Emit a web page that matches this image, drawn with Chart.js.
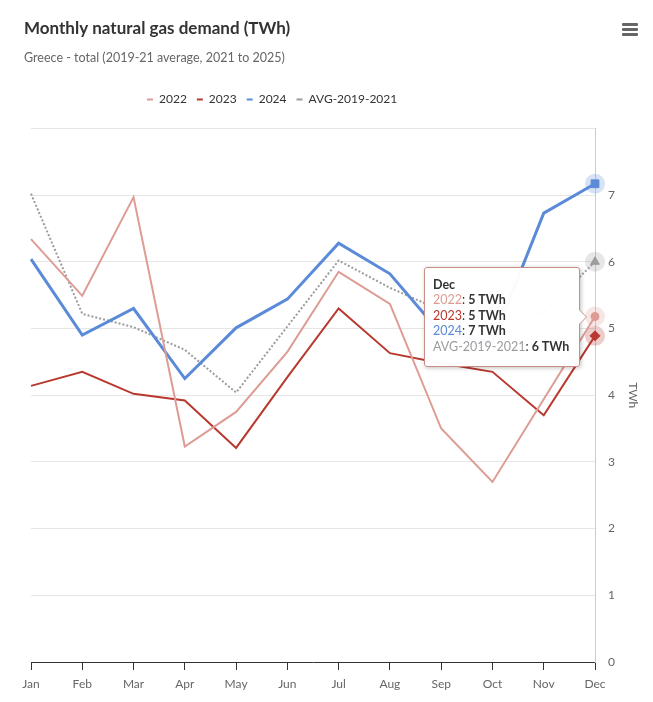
<!DOCTYPE html>
<html>
<head>
<meta charset="utf-8">
<script src="https://cdn.jsdelivr.net/npm/chart.js@4.4.1/dist/chart.umd.min.js"></script>
<style>
  html, body { margin: 0; padding: 0; background: #fff; }
  #wrap { position: relative; width: 653px; height: 702px; }
  #menu { position: absolute; left: 622px; top: 23px; width: 16px; }
  #menu span { display: block; height: 3px; background: #666; margin-bottom: 2px; border-radius: 1px; }
  #tip {
    position: absolute; opacity: 0; pointer-events: none; white-space: nowrap;
    background: rgba(255,255,255,0.97); border: 1px solid #c98d85; border-radius: 3px;
    box-shadow: 1px 1px 4px rgba(0,0,0,0.25);
    padding: 9px 10px 12px 8px; font: 12.5px 'Lato', sans-serif; line-height: 15.5px; color: #333;
  }
  #tip .t { font-weight: bold; }
  #tip:before, #tip:after {
    content: ''; position: absolute; top: 50%; width: 0; height: 0;
    border-top: 8px solid transparent; border-bottom: 8px solid transparent;
  }
  #tip:before { right: -8px; margin-top: -8px; border-left: 8px solid #c98d85; }
  #tip:after { right: -7px; margin-top: -8px; border-left: 8px solid #fff; }
</style>
</head>
<body>
<div id="wrap">
  <canvas id="chart" width="653" height="702"></canvas>
  <div id="menu"><span></span><span></span><span></span></div>
  <div id="tip"></div>
</div>
<script>
    // Data
    const months = ['Jan', 'Feb', 'Mar', 'Apr', 'May', 'Jun', 'Jul', 'Aug', 'Sep', 'Oct', 'Nov', 'Dec'];
    const seriesNames = ['2022', '2023', '2024', 'AVG-2019-2021'];
    const values2022 = [6.34, 5.49, 6.97, 3.23, 3.75, 4.65, 5.85, 5.37, 3.50, 2.70, 3.94, 5.18];
    const values2023 = [4.14, 4.35, 4.02, 3.92, 3.21, 4.27, 5.30, 4.63, 4.48, 4.35, 3.70, 4.89];
    const values2024 = [6.04, 4.90, 5.30, 4.25, 5.01, 5.44, 6.28, 5.82, 4.92, 4.80, 6.73, 7.17];
    const valuesAvg = [7.02, 5.22, 5.02, 4.68, 4.04, 5.03, 6.02, 5.61, 5.27, 5.05, 5.24, 6.00];
    const yTickLabels = ['0', '1', '2', '3', '4', '5', '6', '7', ''];
    const unit = 'TWh';

    // Styles
    const FONT = 'Lato';
    const colors = ['#dd9c94', '#b8392f', '#5b8bd8', '#9c9c9c'];
    const widths = [2, 2, 3, 2];
    const markers = ['circle', 'rectRot', 'rect', 'triangle'];
    const markerSizes = [4, 5, 5.5, 5];
    const LEGEND_X = 147;

    const allValues = [values2022, values2023, values2024, valuesAvg];

    // Halo behind hovered points
    const haloPlugin = {
        id: 'halo',
        beforeDatasetsDraw(chart) {
            const ctx = chart.ctx;
            chart.getActiveElements().forEach(a => {
                ctx.save();
                ctx.globalAlpha = 0.25;
                ctx.fillStyle = colors[a.datasetIndex];
                ctx.beginPath();
                ctx.arc(a.element.x, a.element.y, 10, 0, Math.PI * 2);
                ctx.fill();
                ctx.restore();
            });
        }
    };

    // Legend: extra room below it, and shifted to where the original sits
    const legendPlugin = {
        id: 'legendPos',
        beforeInit(chart) {
            const fit = chart.legend.fit;
            chart.legend.fit = function () {
                fit.call(this);
                this.height += 13;
            };
        },
        afterLayout(chart) {
            const lg = chart.legend;
            const pad = lg.options.labels.padding;
            const w = lg.right - lg.left;
            lg.left = LEGEND_X - pad;
            lg.right = lg.left + w;
        }
    };

    // HTML tooltip
    function externalTip(context) {
        const { tooltip } = context;
        const el = document.getElementById('tip');
        if (tooltip.opacity === 0) { el.style.opacity = 0; return; }
        let html = `<div class="t">${tooltip.title[0]}</div>`;
        tooltip.dataPoints.forEach(p => {
            html += `<div><span style="color:${colors[p.datasetIndex]}">${p.dataset.label}</span>: <b>${Math.round(p.raw)} ${unit}</b></div>`;
        });
        el.innerHTML = html;
        el.style.opacity = 1;
        const w = el.offsetWidth, h = el.offsetHeight;
        const anchor = tooltip.dataPoints[0].element;
        el.style.left = (anchor.x - 15 - w) + 'px';
        el.style.top = (anchor.y - h / 2 + 1) + 'px';
    }

    const ctx = document.getElementById('chart').getContext('2d');
    const chart = new Chart(ctx, {
        type: 'line',
        data: {
            labels: months,
            datasets: seriesNames.map((name, i) => ({
                label: name,
                data: allValues[i],
                borderColor: colors[i],
                backgroundColor: colors[i],
                borderWidth: widths[i],
                borderDash: i === 3 ? [2, 2] : [],
                pointStyle: markers[i],
                pointRadius: 0,
                pointHoverRadius: markerSizes[i],
                pointHoverBackgroundColor: colors[i],
                pointHoverBorderColor: colors[i],
                pointHoverBorderWidth: 1,
                tension: 0,
                clip: false
            }))
        },
        options: {
            responsive: false,
            animation: false,
            events: [],
            layout: { padding: { left: 24, right: 0, top: 0, bottom: 0 } },
            interaction: { mode: 'index', intersect: false },
            plugins: {
                title: {
                    display: true,
                    text: 'Monthly natural gas demand (TWh)',
                    align: 'start',
                    color: '#333',
                    font: { family: FONT, size: 17, weight: 'bold' },
                    padding: { top: 18, bottom: 8 }
                },
                subtitle: {
                    display: true,
                    text: 'Greece - total (2019-21 average, 2021 to 2025)',
                    align: 'start',
                    color: '#666',
                    font: { family: FONT, size: 12.5 },
                    padding: { top: 4, bottom: 18 }
                },
                legend: {
                    position: 'top',
                    align: 'start',
                    labels: {
                        color: '#333',
                        font: { family: FONT, size: 12 },
                        usePointStyle: true,
                        pointStyleWidth: 6,
                        padding: 10,
                        generateLabels(chart) {
                            return Chart.defaults.plugins.legend.labels.generateLabels(chart)
                                .map(item => Object.assign(item, { pointStyle: 'line', lineWidth: 2 }));
                        }
                    }
                },
                tooltip: { enabled: false, external: externalTip }
            },
            scales: {
                x: {
                    offset: false,
                    grid: { drawOnChartArea: false, drawTicks: true, tickLength: 8, color: '#333' },
                    border: { display: true, color: '#333' },
                    ticks: { color: '#666', font: { family: FONT, size: 12 }, padding: 7, maxRotation: 0, autoSkip: false },
                    afterFit: s => { s.height = 40; }
                },
                y: {
                    position: 'right',
                    min: 0,
                    max: 8,
                    grid: { color: '#e6e6e6', drawTicks: false },
                    border: { display: true, color: '#ccc' },
                    ticks: {
                        stepSize: 1,
                        color: '#666',
                        font: { family: FONT, size: 12 },
                        padding: 13,
                        callback: v => yTickLabels[v]
                    },
                    title: { display: true, text: unit, color: '#666', font: { family: FONT, size: 12 }, padding: { top: 13, bottom: 0 } },
                    afterFit: s => { s.width = 58; }
                },
                // empty spacer so the plot starts a little right of the title
                spacer: {
                    position: 'left',
                    display: true,
                    grid: { display: false },
                    border: { display: false },
                    ticks: { display: false },
                    afterFit: s => { s.width = 7; }
                }
            }
        },
        plugins: [haloPlugin, legendPlugin]
    });

    // Show the December tooltip, as in the snapshot
    const active = seriesNames.map((n, i) => ({ datasetIndex: i, index: months.length - 1 }));
    chart.setActiveElements(active);
    chart.tooltip.setActiveElements(active, { x: 0, y: 0 });
    chart.update();
</script>
</body>
</html>
